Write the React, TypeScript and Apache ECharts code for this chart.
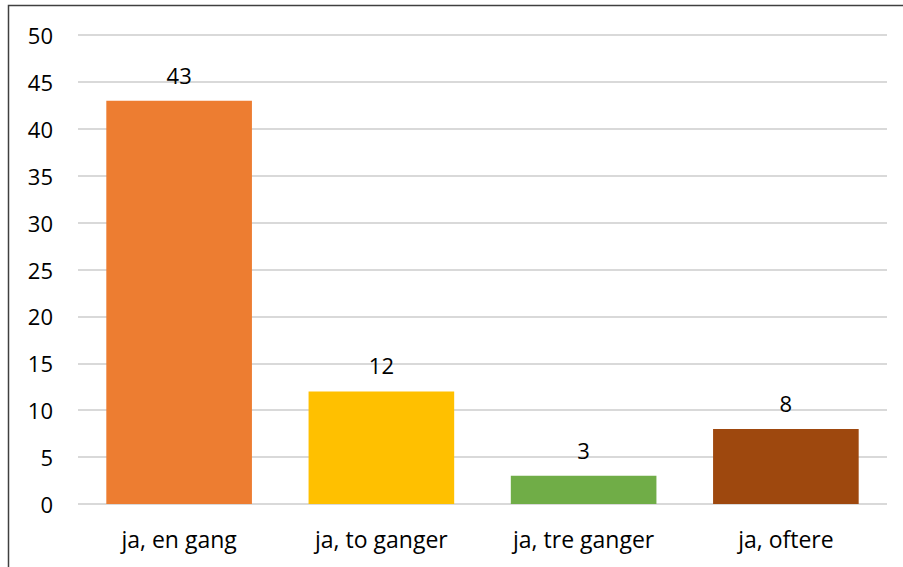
import React, { useEffect, useRef } from "react";
import * as echarts from "echarts";

const categories = ["ja, en gang", "ja, to ganger", "ja, tre ganger", "ja, oftere"];
const values = [43, 12, 3, 8];
const barColors = ["#ED7D31", "#FFC000", "#70AD47", "#9E480E"];

export default function App() {
  const ref = useRef<HTMLDivElement>(null);
  useEffect(() => {
    if (!ref.current) return;
    const chart = echarts.init(ref.current, undefined, { renderer: "svg" });
    const font = "Open Sans, Noto Sans, sans-serif";
    chart.setOption({
      animation: false,
      backgroundColor: "#ffffff",
      grid: { left: 78, right: 16, top: 35, bottom: 63, containLabel: false },
      xAxis: {
        type: "category",
        data: categories,
        axisLine: { show: false },
        axisTick: { show: false },
        axisLabel: { color: "#000000", fontSize: 23, fontFamily: font, margin: 23 },
      },
      yAxis: {
        type: "value",
        min: 0,
        max: 50,
        interval: 5,
        axisLine: { show: false },
        axisTick: { show: false },
        axisLabel: { color: "#000000", fontSize: 22, fontFamily: font, margin: 25 },
        splitLine: { lineStyle: { color: "#D9D9D9", width: 2 } },
      },
      series: [
        {
          type: "bar",
          data: values.map((v, i) => ({ value: v, itemStyle: { color: barColors[i] } })),
          barWidth: "72%",
          label: {
            show: true,
            position: "top",
            distance: 15,
            color: "#000000",
            fontSize: 22,
            fontFamily: font,
          },
        },
      ],
      graphic: [
        {
          type: "polyline",
          shape: { points: [[8.5, 567], [8.5, 5.5], [903, 5.5]] },
          style: { stroke: "#404040", lineWidth: 1.5, fill: null },
          silent: true,
        },
      ],
    });
    return () => chart.dispose();
  }, []);
  return (
    <div
      ref={ref}
      style={{ position: "absolute", left: 0, top: 0, width: 903, height: 567 }}
    />
  );
}
